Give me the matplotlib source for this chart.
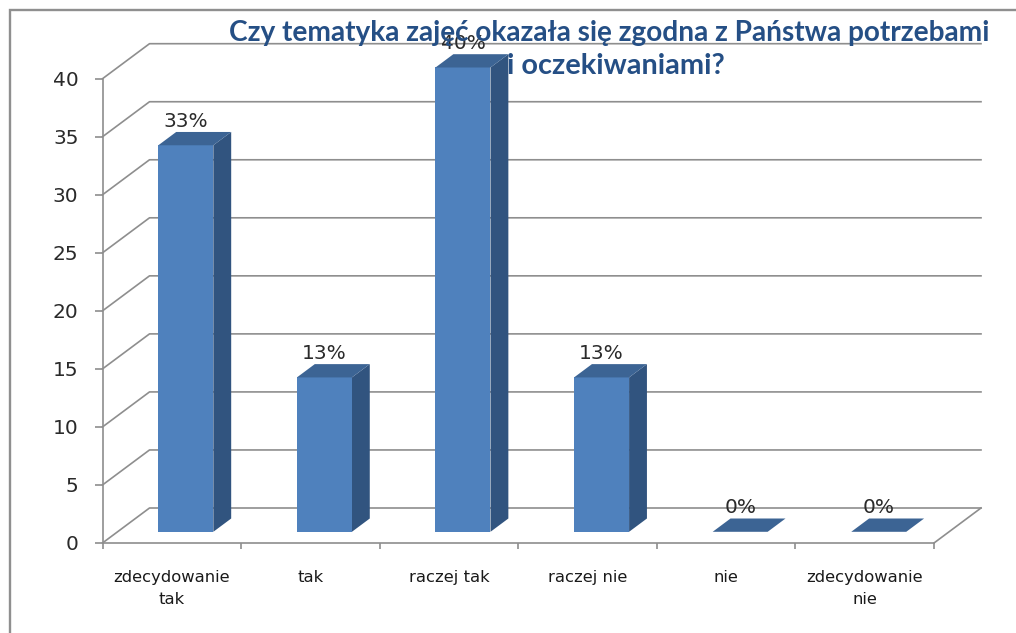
import matplotlib
matplotlib.use("Agg")
import matplotlib.pyplot as plt
from matplotlib.patches import Polygon, Rectangle

categories = ["zdecydowanie\ntak", "tak", "raczej tak", "raczej nie", "nie", "zdecydowanie\nnie"]
values = [33.3, 13.3, 40, 13.3, 0, 0]
labels = ["33%", "13%", "40%", "13%", "0%", "0%"]
yticks = [0, 5, 10, 15, 20, 25, 30, 35, 40]
title_line1 = "Czy tematyka zajęć okazała się zgodna z Państwa potrzebami"
title_line2 = "i oczekiwaniami?"

W, H = 1016, 633
fig = plt.figure(figsize=(W / 100, H / 100), dpi=100, facecolor="white")
L, R, T, B = 102.5, 934.0, 78.7, 543.0
ax = fig.add_axes([L / W, 1 - B / H, (R - L) / W, (B - T) / H])
ax.set_xlim(-0.5, 5.5)
ax.set_ylim(0, 40)
ax.patch.set_visible(False)
for s in ("top", "right"):
    ax.spines[s].set_visible(False)
GRID = "#8E8E8E"
for s in ("left", "bottom"):
    ax.spines[s].set_color(GRID)
    ax.spines[s].set_linewidth(1.2)

px_x = 6 / (R - L)
px_y = 40 / (B - T)
DX, DY = 47 * px_x, 35 * px_y


def proj(x, y, d):
    return (x + d * DX, y + d * DY)


# frame cropped by the image on the right and bottom
fig.add_artist(Rectangle((9.5 / W, -0.1), 1.2, 1.1 - 10 / H, transform=fig.transFigure,
                         fill=False, edgecolor="#8F8F8F", linewidth=1.7))

# gridlines on side wall and back wall
for v in yticks:
    a, b, c = proj(-0.5, v, 0), proj(-0.5, v, 1), proj(5.5, v, 1)
    ax.plot([a[0], b[0], c[0]], [a[1], b[1], c[1]], color=GRID, lw=1.2, clip_on=False, zorder=1)
# floor right edge
a, b = proj(5.5, 0, 0), proj(5.5, 0, 1)
ax.plot([a[0], b[0]], [a[1], b[1]], color=GRID, lw=1.2, clip_on=False, zorder=1)

BW = 55 * px_x
SHIFT = -1 * px_x
D0, D1 = 0.32, 0.70
FRONT, SIDE, TOP = "#4F81BD", "#31547F", "#3C6494"
for i, v in enumerate(values):
    x0, x1 = i - BW / 2 + SHIFT, i + BW / 2 + SHIFT
    if v > 0:
        ax.add_patch(Polygon([proj(x1, 0, D0), proj(x1, 0, D1), proj(x1, v, D1), proj(x1, v, D0)],
                             closed=True, fc=SIDE, ec="none", clip_on=False, zorder=2))
        ax.add_patch(Polygon([proj(x0, 0, D0), proj(x1, 0, D0), proj(x1, v, D0), proj(x0, v, D0)],
                             closed=True, fc=FRONT, ec="none", clip_on=False, zorder=3))
    ax.add_patch(Polygon([proj(x0, v, D0), proj(x1, v, D0), proj(x1, v, D1), proj(x0, v, D1)],
                         closed=True, fc=TOP, ec="none", clip_on=False, zorder=3))
    lx, ly = proj(i + SHIFT, v, D0)
    ax.annotate(labels[i], (lx, ly), xytext=(0, 24 * 0.72), textcoords="offset points",
                ha="center", va="center", fontsize=14.5, color="#2A2A2A",
                family="DejaVu Sans", zorder=5, annotation_clip=False)

ax.set_yticks(yticks)
ax.set_yticklabels([str(v) for v in yticks], fontsize=14.5, color="#2A2A2A", family="DejaVu Sans")
ax.tick_params(axis="y", length=5.5, width=1.2, color=GRID, pad=11.8)
ax.set_xticks(range(len(categories)))
ax.set_xticklabels(categories, fontsize=11.8, color="#1A1A1A", family="DejaVu Sans", linespacing=1.55)
ax.tick_params(axis="x", which="major", length=0, pad=19.5)
ax.set_xticks([i - 0.5 for i in range(7)], minor=True)
ax.tick_params(axis="x", which="minor", length=4.5, width=1.2, color=GRID)

fig.text(609 / W, 1 - 33 / H, title_line1, ha="center", va="center", fontsize=20.2, fontweight="bold",
         family="Lato", color="#254F85", zorder=10)
fig.text(615.5 / W, 1 - 66 / H, title_line2, ha="center", va="center", fontsize=20.8, fontweight="bold",
         family="Lato", color="#254F85", zorder=10)

fig.savefig("out.png", dpi=100)
